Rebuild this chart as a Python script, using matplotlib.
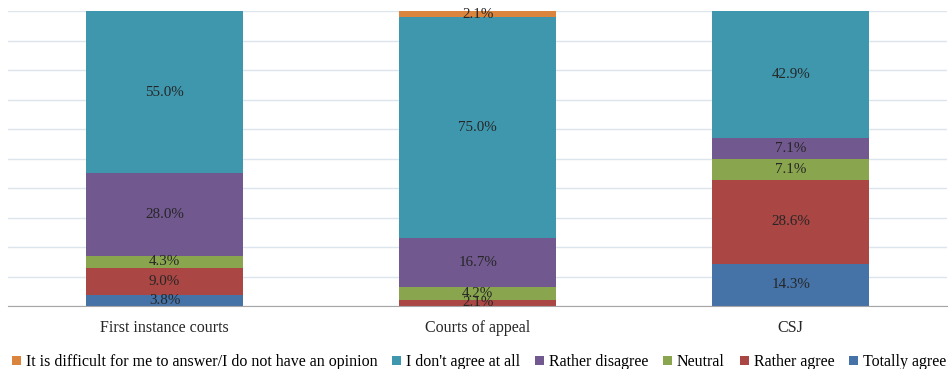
import matplotlib.pyplot as plt
import numpy as np

categories = ["First instance courts", "Courts of appeal", "CSJ"]
series = [
    "Totally agree",
    "Rather agree",
    "Neutral",
    "Rather disagree",
    "I don't agree at all",
    "It is difficult for me to answer/I do not have an opinion",
]
totally_agree = [3.8, 0.0, 14.3]
rather_agree = [9.0, 2.1, 28.6]
neutral = [4.3, 4.2, 7.1]
rather_disagree = [28.0, 16.7, 7.1]
dont_agree = [55.0, 75.0, 42.9]
no_opinion = [0.0, 2.1, 0.0]
colors = ["#4572A7", "#AA4643", "#89A54E", "#71588F", "#3F97AE", "#DB843D"]

plt.rcParams["font.family"] = ["Liberation Serif", "DejaVu Serif"]

values = np.array([totally_agree, rather_agree, neutral, rather_disagree, dont_agree, no_opinion])
shares = values / values.sum(axis=0)

fig = plt.figure(figsize=(9.52, 3.69), dpi=100)
ax = fig.add_axes([0.0084, 0.1707, 0.9866, 0.799])
x = np.arange(len(categories))
bottom = np.zeros(len(categories))
handles = []
for i, name in enumerate(series):
    h = ax.bar(x, shares[i], 0.5, bottom=bottom, color=colors[i], label=name, zorder=2)
    handles.append(h)
    for xi, v, s, b in zip(x, values[i], shares[i], bottom):
        if v > 0:
            ax.text(xi, b + s / 2, f"{v:.1f}%", ha="center", va="center",
                    fontsize=10.8, color="#262626", zorder=3)
    bottom += shares[i]

ax.set_xlim(-0.5, 2.5)
ax.set_ylim(0, 1)
ax.set_yticks(np.arange(0, 1.01, 0.1))
ax.yaxis.grid(True, color="#DCE4EE", linewidth=1, zorder=0)
ax.tick_params(axis="y", left=False, labelleft=False)
ax.set_xticks(x)
ax.set_xticklabels(categories, fontsize=11.5, color="#262626")
ax.tick_params(axis="x", length=0, pad=10)
for s in ["top", "right", "left"]:
    ax.spines[s].set_visible(False)
ax.spines["bottom"].set_color("#A6A6A6")

order = list(reversed(handles))
fig.legend(order, [h.get_label() for h in order], loc="lower left", bbox_to_anchor=(0.006, -0.02),
           ncol=6, frameon=False, fontsize=11.5, handlelength=0.55, handleheight=0.55,
           handletextpad=0.3, columnspacing=0.95, borderaxespad=0.2, borderpad=0.2)

fig.savefig("out.png", dpi=100)
